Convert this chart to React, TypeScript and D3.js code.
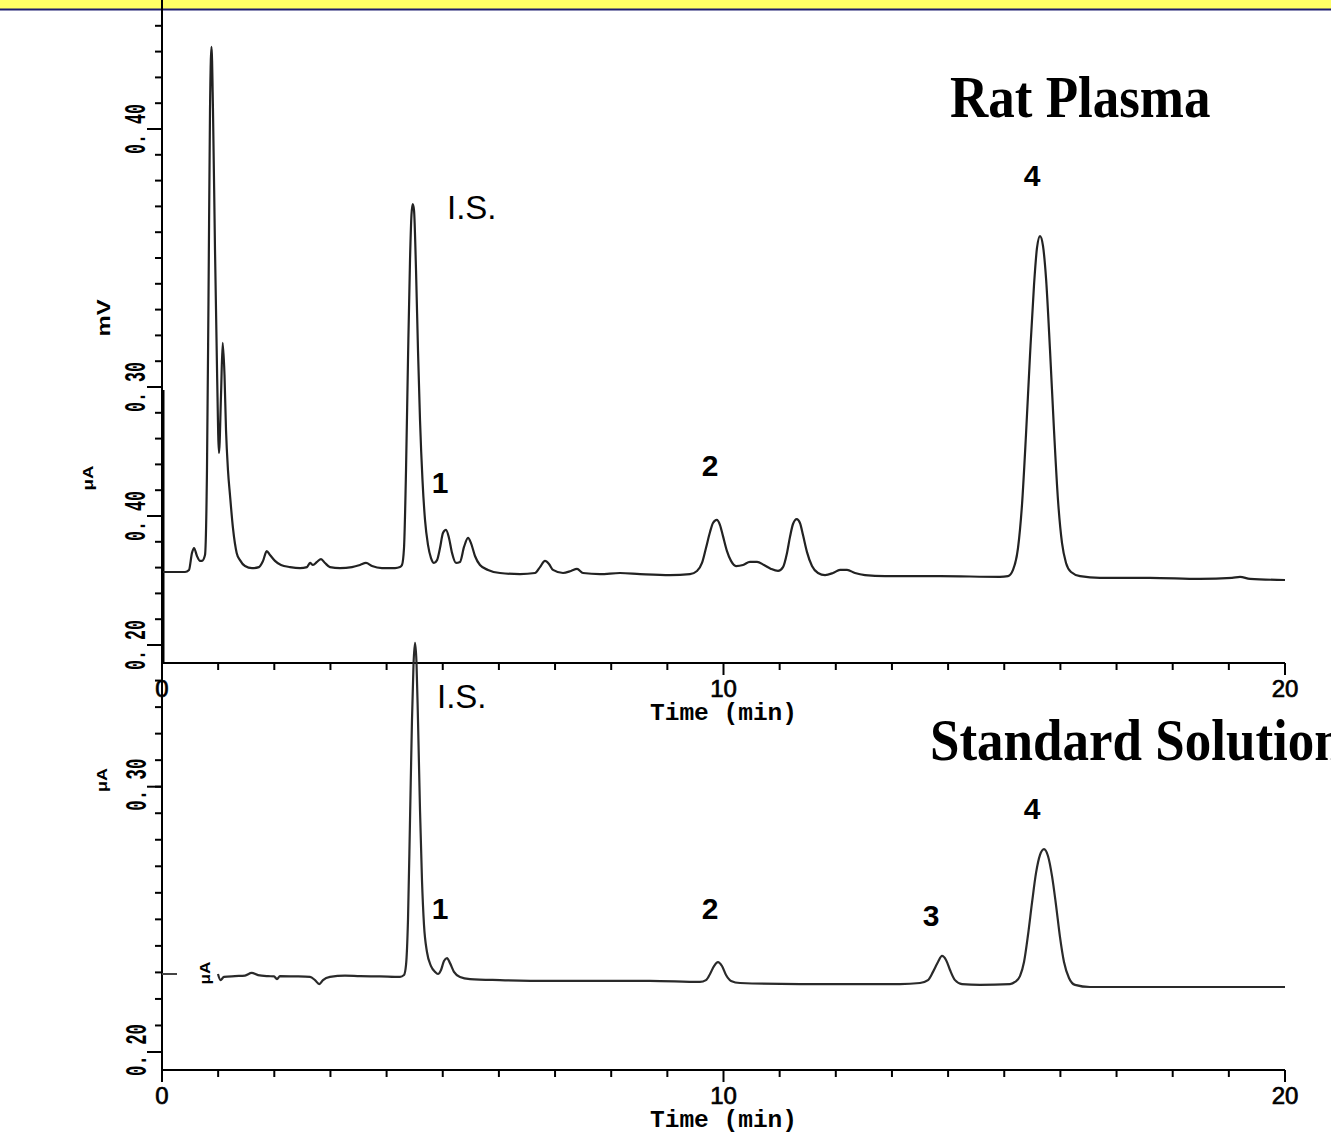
import * as d3 from "d3";

const W = 1331;
const H = 1138;

// Rat plasma trace: retention time (min) and detector signal (µA)
const plasmaTime = [
  0.018, 0.41, 0.481, 0.534, 0.57, 0.623, 0.677, 0.712, 0.766, 0.801,
  0.828, 0.855, 0.882, 0.908, 0.944, 0.98, 1.015, 1.051, 1.081, 1.113,
  1.14, 1.175, 1.211, 1.264, 1.33, 1.389, 1.478, 1.603, 1.727, 1.799,
  1.865, 1.923, 2.012, 2.119, 2.28, 2.458, 2.582, 2.636, 2.689, 2.76,
  2.832, 2.903, 2.992, 3.17, 3.384, 3.526, 3.633, 3.74, 3.918, 4.15,
  4.239, 4.274, 4.31, 4.346, 4.381, 4.417, 4.443, 4.465, 4.488, 4.524,
  4.559, 4.595, 4.639, 4.684, 4.737, 4.791, 4.844, 4.898, 4.951, 5.004,
  5.058, 5.111, 5.165, 5.236, 5.307, 5.379, 5.45, 5.503, 5.574, 5.663,
  5.806, 6.02, 6.376, 6.643, 6.732, 6.821, 6.892, 6.963, 7.142, 7.284,
  7.391, 7.498, 7.801, 8.157, 8.513, 9.047, 9.403, 9.528, 9.617, 9.688,
  9.76, 9.813, 9.879, 9.938, 9.991, 10.062, 10.134, 10.223, 10.347, 10.472,
  10.597, 10.722, 10.846, 10.971, 11.06, 11.131, 11.184, 11.238, 11.304, 11.362,
  11.416, 11.487, 11.576, 11.683, 11.808, 11.95, 12.075, 12.2, 12.342, 12.52,
  12.876, 13.856, 14.924, 15.067, 15.156, 15.245, 15.316, 15.387, 15.459, 15.53,
  15.583, 15.637, 15.69, 15.744, 15.815, 15.886, 15.957, 16.029, 16.1, 16.189,
  16.35, 16.706, 17.596, 18.486, 19.056, 19.199, 19.377, 20.0,
];
const plasmaSignal = [
  0.2283, 0.2283, 0.2291, 0.2357, 0.2376, 0.2345, 0.2326, 0.2326, 0.2349, 0.2678,
  0.3337, 0.4074, 0.4318, 0.4074, 0.3531, 0.3066, 0.2744, 0.2969, 0.3171, 0.3047,
  0.2833, 0.2678, 0.2581, 0.2453, 0.2357, 0.2329, 0.2306, 0.2298, 0.2302, 0.2326,
  0.2364, 0.2349, 0.2326, 0.231, 0.2302, 0.2298, 0.2302, 0.2318, 0.231, 0.2322,
  0.2333, 0.2318, 0.2302, 0.2298, 0.2302, 0.231, 0.2318, 0.2306, 0.2298, 0.2298,
  0.2302, 0.231, 0.2376, 0.2678, 0.3105, 0.3492, 0.3667, 0.3709, 0.3686, 0.3453,
  0.3143, 0.2872, 0.264, 0.2485, 0.2388, 0.2337, 0.2318, 0.2329, 0.2376, 0.2434,
  0.2446, 0.2415, 0.2357, 0.2318, 0.2322, 0.238, 0.2415, 0.2395, 0.2345, 0.231,
  0.2291, 0.2279, 0.2275, 0.2279, 0.2302, 0.2326, 0.2314, 0.2291, 0.2279, 0.2287,
  0.2295, 0.2279, 0.2275, 0.2279, 0.2275, 0.2271, 0.2275, 0.2287, 0.2318, 0.2376,
  0.2438, 0.2473, 0.2485, 0.2465, 0.2422, 0.2364, 0.2326, 0.2306, 0.231, 0.2322,
  0.2322, 0.231, 0.2295, 0.2287, 0.2302, 0.2357, 0.2419, 0.2469, 0.2488, 0.2473,
  0.2426, 0.236, 0.2306, 0.2279, 0.2271, 0.2279, 0.2291, 0.2291, 0.2279, 0.2271,
  0.2267, 0.2267, 0.2264, 0.2267, 0.2291, 0.2376, 0.2543, 0.2814, 0.3124, 0.3395,
  0.3539, 0.3585, 0.3547, 0.3422, 0.3143, 0.2833, 0.2562, 0.2395, 0.2318, 0.2283,
  0.2267, 0.226, 0.226, 0.2256, 0.226, 0.2264, 0.2256, 0.2252,
];

// Standard solution trace
const standardTime = [
  0.997, 1.042, 1.104, 1.3, 1.478, 1.598, 1.71, 1.888, 1.995, 2.048,
  2.101, 2.369, 2.636, 2.725, 2.801, 2.867, 2.992, 3.259, 3.526, 3.882,
  4.239, 4.31, 4.346, 4.381, 4.417, 4.452, 4.479, 4.506, 4.532, 4.559,
  4.595, 4.63, 4.666, 4.719, 4.791, 4.862, 4.915, 4.969, 5.022, 5.076,
  5.129, 5.2, 5.307, 5.485, 6.02, 6.91, 8.691, 9.581, 9.688, 9.76,
  9.831, 9.902, 9.973, 10.045, 10.134, 10.294, 11.362, 13.143, 13.499, 13.642,
  13.731, 13.82, 13.891, 13.963, 14.034, 14.123, 14.248, 14.568, 15.102, 15.191,
  15.28, 15.352, 15.423, 15.494, 15.566, 15.637, 15.708, 15.779, 15.851, 15.922,
  15.993, 16.064, 16.153, 16.26, 16.527, 18.486, 20.0,
];
const standardSignal = [
  0.2294, 0.2271, 0.2283, 0.2286, 0.2288, 0.2298, 0.229, 0.2286, 0.2285, 0.2275,
  0.2286, 0.2285, 0.2283, 0.2271, 0.2256, 0.2271, 0.2283, 0.2288, 0.2286, 0.2285,
  0.2283, 0.229, 0.2328, 0.2498, 0.2874, 0.3251, 0.3459, 0.3542, 0.347, 0.3251,
  0.2912, 0.2648, 0.2479, 0.2377, 0.2324, 0.2302, 0.2294, 0.2309, 0.2343, 0.2354,
  0.2335, 0.2302, 0.2283, 0.2275, 0.2271, 0.2268, 0.2268, 0.2264, 0.2271, 0.2294,
  0.2324, 0.2339, 0.2324, 0.229, 0.2268, 0.226, 0.2256, 0.2256, 0.226, 0.2271,
  0.2302, 0.2339, 0.2362, 0.2347, 0.2309, 0.2271, 0.2256, 0.2253, 0.2256, 0.2264,
  0.2286, 0.2339, 0.2441, 0.2562, 0.2675, 0.2743, 0.2765, 0.2739, 0.2663, 0.2554,
  0.2433, 0.2339, 0.2279, 0.2253, 0.2245, 0.2245, 0.2245,
];

// peak labels (time, signal at label baseline)
const plasmaPeakNames = ["I.S.", "1", "2", "4"];
const plasmaPeakTime = [5.076, 4.951, 9.76, 15.494];
const plasmaPeakLevel = [0.3651, 0.2589, 0.2655, 0.3779];
const standardPeakNames = ["I.S.", "1", "2", "3", "4"];
const standardPeakTime = [4.898, 4.951, 9.76, 13.695, 15.494];
const standardPeakLevel = [0.3297, 0.2501, 0.2501, 0.2475, 0.2878];

// axis ticks
const timeMinor = d3.range(0, 21);
const timeLabels = [0, 10, 20];
const plasmaYMinor = d3.range(0.2, 0.445, 0.01);
const plasmaYMajor = [0.4, 0.3, 0.25, 0.2];
const plasmaYText = ["0. 40", "0. 30", "0. 40", "0. 20"];
const standardYMinor = d3.range(0.2, 0.345, 0.01);
const standardYMajor = [0.3, 0.2];
const standardYText = ["0. 30", "0. 20"];

const x = d3.scaleLinear().domain([0, 20]).range([162, 1285]);
const yTop = d3.scaleLinear().domain([0.2, 0.3]).range([645, 387]);
const yBot = d3.scaleLinear().domain([0.2, 0.3]).range([1052, 786.7]);

const TOP_AXIS_Y = 663;
const BOT_AXIS_Y = 1070;

const plasmaPts = d3.zip(plasmaTime, plasmaSignal) as [number, number][];
const standardPts = d3.zip(standardTime, standardSignal) as [number, number][];

const lineTop = d3
  .line<[number, number]>()
  .x((d) => x(d[0]))
  .y((d) => yTop(d[1]))
  .curve(d3.curveMonotoneX);
const lineBot = d3
  .line<[number, number]>()
  .x((d) => x(d[0]))
  .y((d) => yBot(d[1]))
  .curve(d3.curveMonotoneX);

const monoFont = "'Liberation Mono', 'DejaVu Sans Mono', monospace";
const sansFont = "'Liberation Sans', Arial, sans-serif";
const serifFont = "'Liberation Serif', 'Times New Roman', serif";

function TimeAxis({ y }: { y: number }) {
  return (
    <g>
      <line x1={x(0)} x2={x(20)} y1={y} y2={y} stroke="#000" strokeWidth={2} />
      {timeMinor.map((t) => (
        <line
          key={t}
          x1={x(t)}
          x2={x(t)}
          y1={y}
          y2={y + (t % 10 === 0 ? 12 : 7)}
          stroke="#000"
          strokeWidth={2}
        />
      ))}
      {timeLabels.map((t) => (
        <text
          key={t}
          x={x(t)}
          y={y + 34}
          textAnchor="middle"
          fontFamily={sansFont}
          fontSize={24}
          stroke="#000"
          strokeWidth={0.7}
        >
          {t}
        </text>
      ))}
      <text
        x={x(10)}
        y={y + 57}
        textAnchor="middle"
        fontFamily={monoFont}
        fontWeight="bold"
        fontSize={24}
        textLength={147}
        lengthAdjust="spacingAndGlyphs"
      >
        Time (min)
      </text>
    </g>
  );
}

function RotLabel({
  px,
  py,
  text,
  size,
  len,
  stretch = 1,
  font = monoFont,
  weight = "normal",
}: {
  px: number;
  py: number;
  text: string;
  size: number;
  len?: number;
  stretch?: number;
  font?: string;
  weight?: string;
}) {
  return (
    <text
      transform={`translate(${px},${py}) rotate(-90) scale(1,${stretch})`}
      textAnchor="middle"
      fontFamily={font}
      fontWeight={weight}
      fontSize={size}
      textLength={len}
      lengthAdjust={len ? "spacingAndGlyphs" : undefined}
    >
      {text}
    </text>
  );
}

export default function App() {
  return (
    <svg
      width={W}
      height={H}
      style={{ position: "absolute", left: 0, top: 0, background: "#fff" }}
    >
      {/* header strip */}
      <rect x={0} y={0} width={W} height={9} fill="#ffff66" />
      <line x1={0} x2={W} y1={9.5} y2={9.5} stroke="#1c1c70" strokeWidth={2} />

      {/* top panel y axis */}
      <line x1={162} x2={162} y1={0} y2={TOP_AXIS_Y} stroke="#000" strokeWidth={2} />
      <line x1={163.5} x2={163.5} y1={390} y2={TOP_AXIS_Y} stroke="#000" strokeWidth={2} />
      {plasmaYMinor.map((v, i) => (
        <line
          key={i}
          x1={155}
          x2={162}
          y1={yTop(v)}
          y2={yTop(v)}
          stroke="#000"
          strokeWidth={2}
        />
      ))}
      {plasmaYMajor.map((v, i) => (
        <g key={i}>
          <line x1={147} x2={162} y1={yTop(v)} y2={yTop(v)} stroke="#000" strokeWidth={2} />
          <RotLabel
            px={145}
            py={yTop(v)}
            text={plasmaYText[i]}
            size={18}
            len={50}
            stretch={1.6}
            weight="bold"
          />
        </g>
      ))}
      <RotLabel px={110} py={318} text="mV" size={18} len={37} font={sansFont} weight="bold" />
      <RotLabel px={93} py={478} text="μA" size={14} len={25} font={sansFont} weight="bold" />

      <TimeAxis y={TOP_AXIS_Y} />

      {/* bottom panel y axis */}
      <line x1={162} x2={162} y1={TOP_AXIS_Y} y2={BOT_AXIS_Y} stroke="#000" strokeWidth={2} />
      {standardYMinor.map((v, i) => (
        <line
          key={i}
          x1={155}
          x2={162}
          y1={yBot(v)}
          y2={yBot(v)}
          stroke="#000"
          strokeWidth={2}
        />
      ))}
      {standardYMajor.map((v, i) => (
        <g key={i}>
          <line x1={147} x2={162} y1={yBot(v)} y2={yBot(v)} stroke="#000" strokeWidth={2} />
          <RotLabel
            px={146}
            py={yBot(v) - 2}
            text={standardYText[i]}
            size={18}
            len={52}
            stretch={1.6}
            weight="bold"
          />
        </g>
      ))}
      <RotLabel px={107} py={780} text="μA" size={15} len={24} font={sansFont} weight="bold" />
      <line x1={162} x2={177} y1={974} y2={974} stroke="#444" strokeWidth={2} />
      <RotLabel px={210} py={973} text="μA" size={15} len={23} font={sansFont} weight="bold" />

      <TimeAxis y={BOT_AXIS_Y} />

      {/* traces */}
      <path d={lineTop(plasmaPts) ?? ""} fill="none" stroke="#222" strokeWidth={2.2} strokeLinejoin="round" />
      <path d={lineBot(standardPts) ?? ""} fill="none" stroke="#2a2a2a" strokeWidth={2.2} strokeLinejoin="round" />

      {/* peak labels */}
      {plasmaPeakNames.map((n, i) => (
        <text
          key={n}
          x={x(plasmaPeakTime[i])}
          y={yTop(plasmaPeakLevel[i])}
          textAnchor={n === "I.S." ? "start" : "middle"}
          fontFamily={sansFont}
          fontWeight={n === "I.S." ? "normal" : "bold"}
          fontSize={n === "I.S." ? 33 : 30}
        >
          {n}
        </text>
      ))}
      {standardPeakNames.map((n, i) => (
        <text
          key={n}
          x={x(standardPeakTime[i])}
          y={yBot(standardPeakLevel[i])}
          textAnchor={n === "I.S." ? "start" : "middle"}
          fontFamily={sansFont}
          fontWeight={n === "I.S." ? "normal" : "bold"}
          fontSize={n === "I.S." ? 33 : 30}
        >
          {n}
        </text>
      ))}

      {/* panel titles */}
      <text
        transform="translate(950,117) scale(1,1.1)"
        fontFamily={serifFont}
        fontWeight="bold"
        fontSize={53}
      >
        Rat Plasma
      </text>
      <text
        transform="translate(930,760) scale(1,1.1)"
        fontFamily={serifFont}
        fontWeight="bold"
        fontSize={53}
      >
        Standard Solution
      </text>
    </svg>
  );
}
